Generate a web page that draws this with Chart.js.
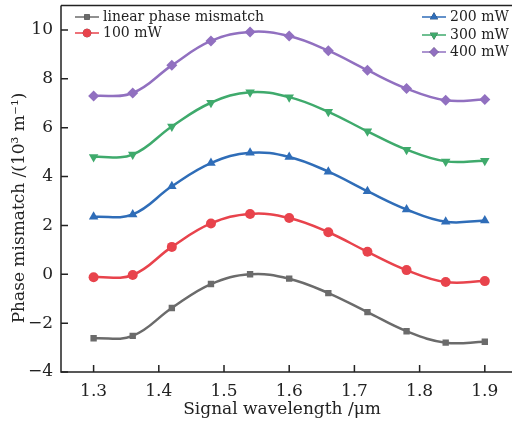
<!DOCTYPE html>
<html>
<head>
<meta charset="utf-8">
<script src="https://cdn.jsdelivr.net/npm/chart.js@4"></script>
<style>
  html, body { margin: 0; padding: 0; background: #fff; overflow: hidden; }
  #wrap { width: 519px; height: 425px; position: relative; }
</style>
</head>
<body>
<div id="wrap"><canvas id="myChart"></canvas></div>
<script>
// wavelength (um)
const wavelengths = [1.30, 1.36, 1.42, 1.48, 1.54, 1.60, 1.66, 1.72, 1.78, 1.84, 1.90];
const xTicks = [1.3, 1.4, 1.5, 1.6, 1.7, 1.8, 1.9];
const yTicks = [-4, -2, 0, 2, 4, 6, 8, 10];

// phase mismatch (10^3 m^-1)
const linearMismatch = [-2.62, -2.52, -1.38, -0.40, 0.00, -0.18, -0.77, -1.55, -2.33, -2.80, -2.76];
const p100 = [-0.12, -0.03, 1.12, 2.08, 2.47, 2.30, 1.72, 0.92, 0.17, -0.32, -0.28];
const p200 = [2.35, 2.45, 3.60, 4.55, 4.97, 4.80, 4.20, 3.40, 2.65, 2.15, 2.20];
const p300 = [4.80, 4.90, 6.05, 7.02, 7.45, 7.25, 6.65, 5.85, 5.10, 4.62, 4.65];
const p400 = [7.30, 7.42, 8.55, 9.55, 9.92, 9.75, 9.15, 8.35, 7.60, 7.12, 7.15];

const FONT = "'DejaVu Serif', serif";

function series(label, values, color, style, rot, size) {
    return {
        label: label,
        data: values.map((v, i) => ({ x: wavelengths[i], y: v })),
        borderColor: color,
        backgroundColor: color,
        borderWidth: 2.5,
        pointStyle: style,
        pointRotation: rot,
        pointRadius: size,
        pointBorderWidth: 0,
        tension: 0.4,
        fill: false
    };
}

const datasets = [
    series('linear phase mismatch', linearMismatch, '#6b6b6b', 'rect', 0, 4.5),
    series('100 mW', p100, '#e8434c', 'circle', 0, 5),
    series('200 mW', p200, '#2f6db8', 'triangle', 0, 5.5),
    series('300 mW', p300, '#3faa6c', 'triangle', 180, 5.5),
    series('400 mW', p400, '#9170c0', 'rectRot', 0, 5.5)
];

// legend groups: [dataset index, x, y]
const legendLayout = [[0, 75, 17], [1, 75, 33], [2, 422, 17], [3, 422, 35], [4, 422, 52]];

const decor = {
    id: 'decor',
    afterDraw(chart) {
        const c = chart.ctx;
        const a = chart.chartArea;
        const xs = chart.scales.x, ys = chart.scales.y;
        c.save();
        c.strokeStyle = '#222';
        c.lineWidth = 1.5;
        // frame
        c.beginPath();
        c.moveTo(a.left, a.top);
        c.lineTo(a.right, a.top);
        c.moveTo(a.left, a.top);
        c.lineTo(a.left, a.bottom);
        c.lineTo(a.right, a.bottom);
        c.stroke();
        // inward ticks
        c.beginPath();
        xTicks.forEach(t => {
            const px = xs.getPixelForValue(t);
            c.moveTo(px, a.bottom);
            c.lineTo(px, a.bottom - 7);
        });
        yTicks.forEach(t => {
            const py = ys.getPixelForValue(t);
            c.moveTo(a.left, py);
            c.lineTo(a.left + 7, py);
        });
        c.stroke();

        // axis titles
        c.fillStyle = '#222';
        c.font = '17px ' + FONT;
        c.textAlign = 'center';
        c.textBaseline = 'middle';
        c.fillText('Signal wavelength /\u03bcm', 282, 410);
        c.translate(20, 208);
        c.rotate(-Math.PI / 2);
        c.fillText('Phase mismatch /(10\u00b3 m\u207b\u00b9)', 0, 0);
        c.setTransform(1, 0, 0, 1, 0, 0);

        // legend
        c.font = '14px ' + FONT;
        c.textAlign = 'left';
        legendLayout.forEach(([i, lx, ly]) => {
            const ds = chart.data.datasets[i];
            c.strokeStyle = ds.borderColor;
            c.lineWidth = 1.5;
            c.beginPath();
            c.moveTo(lx, ly);
            c.lineTo(lx + 24, ly);
            c.stroke();
            Chart.helpers.drawPoint(c, {
                pointStyle: ds.pointStyle,
                rotation: ds.pointRotation,
                radius: ds.pointRadius * 0.85,
                borderWidth: 0
            }, lx + 12, ly);
            c.fillStyle = ds.backgroundColor;
            c.fill();
            c.fillStyle = '#222';
            c.fillText(ds.label, lx + 28, ly);
        });
        c.restore();
    }
};

const ctx = document.getElementById('myChart').getContext('2d');
const chart = new Chart(ctx, {
    type: 'line',
    data: { datasets: datasets },
    options: {
        responsive: true,
        maintainAspectRatio: false,
        animation: false,
        layout: { padding: { top: 5, right: 0, left: 0, bottom: 0 } },
        plugins: { legend: { display: false }, tooltip: { enabled: false } },
        scales: {
            x: {
                type: 'linear',
                min: 1.25,
                max: 1.944,
                afterBuildTicks: s => { s.ticks = xTicks.map(v => ({ value: v })); },
                afterFit: s => { s.height = 53; s.paddingLeft = 0; s.paddingRight = 0; },
                grid: { display: false, drawTicks: false },
                border: { display: false },
                ticks: {
                    color: '#222',
                    font: { family: FONT, size: 17 },
                    padding: 9,
                    maxRotation: 0,
                    callback: v => v.toFixed(1)
                }
            },
            y: {
                type: 'linear',
                min: -4,
                max: 11,
                afterBuildTicks: s => { s.ticks = yTicks.map(v => ({ value: v })); },
                afterFit: s => { s.width = 61; s.paddingTop = 0; s.paddingBottom = 0; },
                grid: { display: false, drawTicks: false },
                border: { display: false },
                ticks: {
                    color: '#222',
                    font: { family: FONT, size: 17 },
                    padding: 8,
                    callback: v => (v < 0 ? '\u2212' + Math.abs(v) : '' + v)
                }
            }
        }
    },
    plugins: [decor]
});
</script>
</body>
</html>
